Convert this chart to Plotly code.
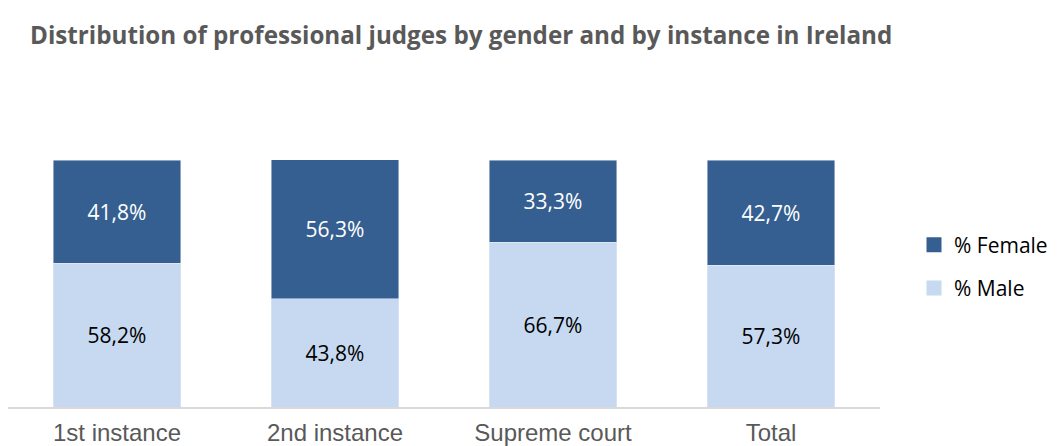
import plotly.graph_objs as go

categories = ["1st instance", "2nd instance", "Supreme court", "Total"]
male = [58.2, 43.8, 66.7, 57.3]
female = [41.8, 56.3, 33.3, 42.7]

female_color = "#365F91"
male_color = "#C6D9F0"

W, H = 1049, 438  # page body margin eats 8px of the 1057x446 window


def fmt(values):
    # comma as decimal separator, like the source
    return [f"{v:.1f}%".replace(".", ",") for v in values]


fig = go.Figure()
fig.add_trace(
    go.Bar(
        x=categories,
        y=male,
        name="% Male",
        marker_color=male_color,
        text=fmt(male),
        textposition="inside",
        insidetextanchor="middle",
        textfont=dict(color="#000000", size=21, family="Open Sans"),
        showlegend=False,
    )
)
fig.add_trace(
    go.Bar(
        x=categories,
        y=female,
        name="% Female",
        marker_color=female_color,
        text=fmt(female),
        textposition="inside",
        insidetextanchor="middle",
        textfont=dict(color="#FFFFFF", size=21, family="Open Sans"),
        showlegend=False,
    )
)

# square legend swatches
for name, color in [("% Female", female_color), ("% Male", male_color)]:
    fig.add_trace(
        go.Scatter(
            x=[None],
            y=[None],
            mode="markers",
            name=name,
            legendgroup=name,
            marker=dict(symbol="square", size=15, color=color),
        )
    )

fig.update_layout(
    barmode="stack",
    bargap=0.413,
    width=W,
    height=H,
    margin=dict(l=0, r=177, t=152, b=39),
    plot_bgcolor="white",
    paper_bgcolor="white",
    title=dict(
        text="<b>Distribution of professional judges by gender and by instance in Ireland</b>",
        font=dict(family="Open Sans", size=24.2, color="#595959"),
        xref="container",
        x=22 / W,
        xanchor="left",
        yref="container",
        y=1 - 28 / H,
        yanchor="middle",
    ),
    legend=dict(
        xref="container",
        yref="container",
        x=906 / W,
        xanchor="left",
        y=1 - 258.5 / H,
        yanchor="middle",
        font=dict(family="Open Sans", size=21, color="#000000"),
        traceorder="grouped",
        tracegroupgap=13,
        itemwidth=30,
    ),
)
fig.update_xaxes(
    showline=True,
    linecolor="#D9D9D9",
    linewidth=2,
    ticks="",
    automargin=False,
    ticklabelstandoff=3,
    tickfont=dict(family="Liberation Sans", size=24, color="#595959"),
)
fig.update_yaxes(range=[0, 100], visible=False, showgrid=False)

fig.write_html("out.html")
